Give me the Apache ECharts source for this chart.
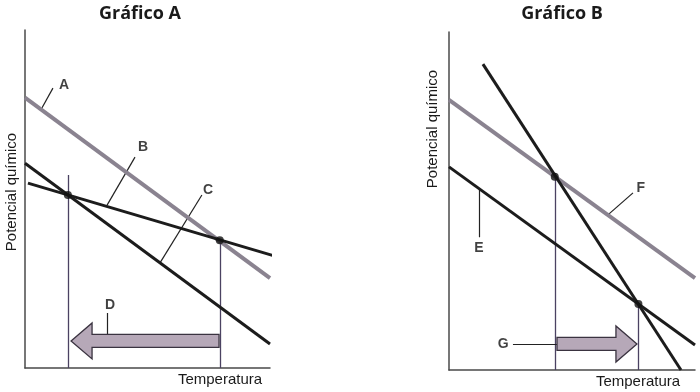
<!DOCTYPE html>
<html>
<head>
<meta charset="utf-8">
<script src="https://cdn.jsdelivr.net/npm/echarts@6/dist/echarts.min.js"></script>
<style>html,body{margin:0;padding:0;background:#fff}#c{width:700px;height:392px}</style>
</head>
<body>
<div id="c"></div>
<script>
// ---- Gráfico A data (abstract units, axes 0..10) ----
const lineA = [[0, 8.0], [10, 2.66]];
const lineB = [[0.12, 5.47], [10.15, 3.32]];
const lineC = [[0, 6.06], [10, 0.71]];
const pointsA = [[1.75, 5.12], [7.95, 3.78]];
const guidesA = [[1.75, 0, 5.71], [7.95, 0, 3.78]];
const arrowD = [[7.92, 1.88, 0.80]];
const labelsA = [[1.59, 8.37, 'A'], [4.82, 6.54, 'B'], [7.47, 5.27, 'C'], [3.47, 1.86, 'D']];
const leadersA = [[[1.14, 8.28], [0.69, 7.69]], [[4.49, 6.24], [3.35, 4.82]], [[7.22, 5.12], [5.51, 3.11]], [[3.35, 1.63], [3.35, 0.77]]];

// ---- Gráfico B data ----
const lineF = [[0, 7.99], [10, 2.72]];
const lineSteep = [[1.38, 9.05], [9.43, 0]];
const lineE = [[0, 6.01], [10, 0.74]];
const pointsB = [[4.3, 5.72], [7.7, 1.95]];
const guidesB = [[4.3, 0, 5.83], [7.7, 0, 1.95]];
const arrowG = [[4.39, 7.64, 0.77]];
const labelsB = [[1.22, 3.61, 'E'], [7.8, 5.38, 'F'], [2.2, 0.77, 'G']];
const leadersB = [[[1.22, 5.36], [1.22, 3.93]], [[7.48, 5.24], [6.46, 4.59]], [[2.6, 0.77], [5.45, 0.77]]];

const titles = ['Gráfico A', 'Gráfico B'];
const xName = 'Temperatura';
const yName = 'Potencial químico';

const BLACK = '#1c1c1c', GRAY = '#8a8390', GUIDE = '#4b4262', AXIS = '#4a4a4a';

function axisCfg(gi, type) {
  return {
    type: 'value', gridIndex: gi, min: 0, max: 10,
    axisLine: {show: true, lineStyle: {color: AXIS, width: 1.5}},
    axisTick: {show: false}, axisLabel: {show: false}, splitLine: {show: false}
  };
}
function lineSeries(gi, data, color, width) {
  return {type: 'line', xAxisIndex: gi, yAxisIndex: gi, data: data, symbol: 'none', clip: false,
    lineStyle: {color: color, width: width}, z: 3};
}
function segSeries(gi, segs, color, width) {
  return {type: 'lines', coordinateSystem: 'cartesian2d', xAxisIndex: gi, yAxisIndex: gi,
    data: segs.map(s => ({coords: s})), lineStyle: {color: color, width: width, opacity: 1}, z: 2};
}
function guideSegs(g) { return g.map(v => [[v[0], v[1]], [v[0], v[2]]]); }
function dotSeries(gi, pts) {
  return {type: 'scatter', xAxisIndex: gi, yAxisIndex: gi, data: pts, symbolSize: 8,
    itemStyle: {color: '#111'}, z: 5};
}
function labelSeries(gi, labs) {
  return {type: 'scatter', xAxisIndex: gi, yAxisIndex: gi, data: labs, symbolSize: 1,
    itemStyle: {color: 'rgba(0,0,0,0)'}, z: 6,
    label: {show: true, position: 'inside', formatter: p => p.data[2],
      fontFamily: 'Liberation Sans, Arial', fontWeight: 'bold', fontSize: 14, color: '#111'}};
}
function arrowSeries(gi, arr) {
  return {type: 'custom', xAxisIndex: gi, yAxisIndex: gi, data: arr, z: 4, clip: false,
    renderItem: function (params, api) {
      const p0 = api.coord([api.value(0), api.value(2)]);
      const p1 = api.coord([api.value(1), api.value(2)]);
      const dir = p1[0] > p0[0] ? 1 : -1;
      const hl = 21, sh = 6.5, hh = 18, y = p0[1];
      const hb = p1[0] - dir * hl;
      return {type: 'polygon', shape: {points: [
        [p0[0], y - sh], [hb, y - sh], [hb, y - hh], [p1[0], y], [hb, y + hh], [hb, y + sh], [p0[0], y + sh]
      ]}, style: {fill: '#b6a8b8', stroke: '#3a3340', lineWidth: 1.3}};
    }};
}

const chart = echarts.init(document.getElementById('c'));
const txt = (x, y, t, size, bold, rot) => ({
  type: 'text', x: x, y: y, rotation: rot || 0,
  style: {text: t, fontSize: size, fontWeight: bold ? 'bold' : 'normal',
    fontFamily: bold ? 'Open Sans' : 'Liberation Sans, Arial', fill: '#1a1a1a',
    textAlign: 'center', textVerticalAlign: 'middle'}
});
chart.setOption({
  animation: false,
  backgroundColor: '#fff',
  grid: [
    {left: 25, top: 30, width: 245, height: 338},
    {left: 449, top: 32, width: 246, height: 338}
  ],
  xAxis: [axisCfg(0), axisCfg(1)],
  yAxis: [axisCfg(0), axisCfg(1)],
  graphic: [
    txt(140, 14, titles[0], 18, true),
    txt(562, 14, titles[1], 18, true),
    txt(220, 380, xName, 15, false),
    txt(638, 382, xName, 15, false),
    txt(12, 192, yName, 15, false, Math.PI / 2),
    txt(433, 129, yName, 15, false, Math.PI / 2)
  ],
  series: [
    segSeries(0, guideSegs(guidesA), GUIDE, 1.3),
    lineSeries(0, lineA, GRAY, 4),
    lineSeries(0, lineB, BLACK, 3),
    lineSeries(0, lineC, BLACK, 3),
    segSeries(0, leadersA, '#222', 1.2),
    arrowSeries(0, arrowD),
    dotSeries(0, pointsA),
    labelSeries(0, labelsA),

    segSeries(1, guideSegs(guidesB), GUIDE, 1.3),
    lineSeries(1, lineF, GRAY, 4),
    lineSeries(1, lineSteep, BLACK, 3),
    lineSeries(1, lineE, BLACK, 3),
    arrowSeries(1, arrowG),
    segSeries(1, leadersB, '#222', 1.2),
    dotSeries(1, pointsB),
    labelSeries(1, labelsB)
  ]
});
</script>
</body>
</html>
